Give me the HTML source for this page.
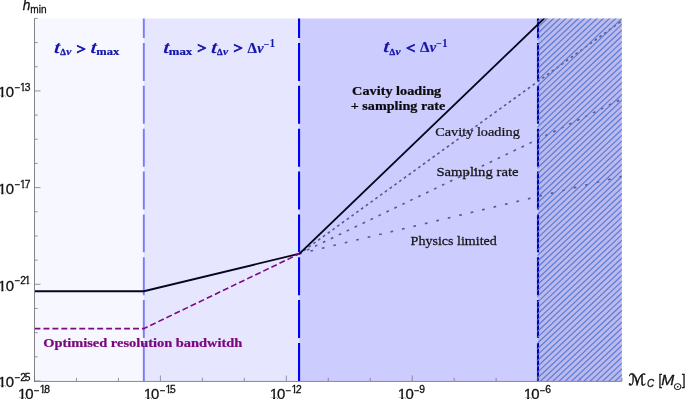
<!DOCTYPE html>
<html lang="en"><head><meta charset="utf-8"><title>h_min vs chirp mass</title>
<style>
html,body{margin:0;padding:0;background:#fff;}
body{width:685px;height:399px;overflow:hidden;}
svg{display:block;}
</style></head><body>
<svg width="685" height="399" viewBox="0 0 685 399">
<defs>
<clipPath id="plot"><rect x="34.5" y="18.5" width="587.3" height="362.5"/></clipPath>
</defs>
<rect x="34.5" y="18.5" width="109.35" height="362.5" fill="#f7f7ff"/>
<rect x="143.85" y="18.5" width="155.25000000000003" height="362.5" fill="#e6e6ff"/>
<rect x="299.1" y="18.5" width="238.89999999999998" height="362.5" fill="#ccccff"/>
<rect x="538.0" y="18.5" width="83.79999999999995" height="362.5" fill="#bcb9ec"/>
<g clip-path="url(#plot)">
<path d="M299.5 253.7 L621.80 20.87" stroke="#58588c" stroke-width="1.6" fill="none" stroke-dasharray="2.7 3.18" stroke-dashoffset="0.53"/>
<path d="M299.5 253.7 L621.80 99.00" stroke="#58588c" stroke-width="1.6" fill="none" stroke-dasharray="2.7 6.11" stroke-dashoffset="0.49"/>
<path d="M299.5 253.7 L621.80 176.35" stroke="#58588c" stroke-width="1.6" fill="none" stroke-dasharray="2.7 9.07" stroke-dashoffset="0.52"/>
</g>
<path d="M538.0 18.50V38.10M538.0 43.00V80.95M538.0 85.85V123.80M538.0 128.70V166.65M538.0 171.55V209.50M538.0 214.40V252.35M538.0 257.25V295.20M538.0 300.10V338.05M538.0 342.95V380.90" stroke="#0000b0" stroke-width="2.1" fill="none"/>
<clipPath id="hc"><rect x="537.4" y="18.5" width="84.39999999999995" height="362.5"/></clipPath>
<path clip-path="url(#hc)" d="M536.0 17.48L623.8 -65.05M536.0 23.32L623.8 -59.21M536.0 29.16L623.8 -53.37M536.0 35.00L623.8 -47.53M536.0 40.84L623.8 -41.69M536.0 46.68L623.8 -35.85M536.0 52.52L623.8 -30.01M536.0 58.36L623.8 -24.17M536.0 64.20L623.8 -18.33M536.0 70.04L623.8 -12.49M536.0 75.88L623.8 -6.65M536.0 81.72L623.8 -0.81M536.0 87.56L623.8 5.03M536.0 93.40L623.8 10.87M536.0 99.24L623.8 16.71M536.0 105.08L623.8 22.55M536.0 110.92L623.8 28.39M536.0 116.76L623.8 34.23M536.0 122.60L623.8 40.07M536.0 128.44L623.8 45.91M536.0 134.28L623.8 51.75M536.0 140.12L623.8 57.59M536.0 145.96L623.8 63.43M536.0 151.80L623.8 69.27M536.0 157.64L623.8 75.11M536.0 163.48L623.8 80.95M536.0 169.32L623.8 86.79M536.0 175.16L623.8 92.63M536.0 181.00L623.8 98.47M536.0 186.84L623.8 104.31M536.0 192.68L623.8 110.15M536.0 198.52L623.8 115.99M536.0 204.36L623.8 121.83M536.0 210.20L623.8 127.67M536.0 216.04L623.8 133.51M536.0 221.88L623.8 139.35M536.0 227.72L623.8 145.19M536.0 233.56L623.8 151.03M536.0 239.40L623.8 156.87M536.0 245.24L623.8 162.71M536.0 251.08L623.8 168.55M536.0 256.92L623.8 174.39M536.0 262.76L623.8 180.23M536.0 268.60L623.8 186.07M536.0 274.44L623.8 191.91M536.0 280.28L623.8 197.75M536.0 286.12L623.8 203.59M536.0 291.96L623.8 209.43M536.0 297.80L623.8 215.27M536.0 303.64L623.8 221.11M536.0 309.48L623.8 226.95M536.0 315.32L623.8 232.79M536.0 321.16L623.8 238.63M536.0 327.00L623.8 244.47M536.0 332.84L623.8 250.31M536.0 338.68L623.8 256.15M536.0 344.52L623.8 261.99M536.0 350.36L623.8 267.83M536.0 356.20L623.8 273.67M536.0 362.04L623.8 279.51M536.0 367.88L623.8 285.35M536.0 373.72L623.8 291.19M536.0 379.56L623.8 297.03M536.0 385.40L623.8 302.87M536.0 391.24L623.8 308.71M536.0 397.08L623.8 314.55M536.0 402.92L623.8 320.39M536.0 408.76L623.8 326.23M536.0 414.60L623.8 332.07M536.0 420.44L623.8 337.91M536.0 426.28L623.8 343.75M536.0 432.12L623.8 349.59M536.0 437.96L623.8 355.43M536.0 443.80L623.8 361.27M536.0 449.64L623.8 367.11M536.0 455.48L623.8 372.95M536.0 461.32L623.8 378.79" stroke="#5b7cd6" stroke-width="1.2" fill="none"/>
<path d="M143.79999999999998 18.50V38.10M143.79999999999998 43.00V80.95M143.79999999999998 85.85V123.80M143.79999999999998 128.70V166.65M143.79999999999998 171.55V209.50M143.79999999999998 214.40V252.35M143.79999999999998 257.25V295.20M143.79999999999998 300.10V338.05M143.79999999999998 342.95V380.90" stroke="#7a7aff" stroke-width="1.9" fill="none"/>
<path d="M299.05 18.50V38.10M299.05 43.00V80.95M299.05 85.85V123.80M299.05 128.70V166.65M299.05 171.55V209.50M299.05 214.40V252.35M299.05 257.25V295.20M299.05 300.10V338.05M299.05 342.95V380.90" stroke="#0000ff" stroke-width="2.1" fill="none"/>
<g clip-path="url(#plot)">
<path d="M34.5 291.25 H143.8 L299.5 253.7 L547.21 15.5" stroke="#06061e" stroke-width="1.85" fill="none" stroke-linejoin="miter"/>
<path d="M34.5 328.6 H143.8 L299.5 253.7" stroke="#7d0a82" stroke-width="1.6" fill="none" stroke-dasharray="5.93 3.03"/>
</g>
<path d="M34.5 18.3V381.9" stroke="#84848a" stroke-width="1" fill="none"/>
<path d="M34.0 381.45H621.8" stroke="#7c7c80" stroke-width="0.9" fill="none"/>
<path d="M34.5 381.00h6.0M34.5 356.82h3.2M34.5 332.65h3.2M34.5 308.48h3.2M34.5 284.30h6.0M34.5 260.12h3.2M34.5 235.95h3.2M34.5 211.78h3.2M34.5 187.60h6.0M34.5 163.42h3.2M34.5 139.25h3.2M34.5 115.07h3.2M34.5 90.90h6.0M34.5 66.72h3.2M34.5 42.55h3.2M34.5 18.38h3.2M34.50 381.0v-5.5M76.47 381.0v-3.2M118.43 381.0v-3.2M160.40 381.0v-5.5M202.37 381.0v-3.2M244.33 381.0v-3.2M286.30 381.0v-5.5M328.27 381.0v-3.2M370.23 381.0v-3.2M412.20 381.0v-5.5M454.17 381.0v-3.2M496.13 381.0v-3.2M538.10 381.0v-5.5M580.07 381.0v-3.2M622.03 381.0v-3.2" stroke="#74747c" stroke-width="0.75" fill="none"/>
<clipPath id="df1"><rect x="-7.02" y="79.32" width="27.70" height="16.52"/><rect x="1.38" y="95.34" width="2.02" height="3.36"/><rect x="5.71" y="95.34" width="7.72" height="3.36"/></clipPath><text clip-path="url(#df1)" x="-2.02" y="97.20" font-family='"Liberation Sans","DejaVu Sans",sans-serif' font-size="14.9" letter-spacing="-0.563" fill="#111111" stroke="#111111" stroke-width="0.3">10</text>
<text transform="matrix(0.9984 0 0 1 14.53 91.05)" font-family='"Liberation Sans","DejaVu Sans",sans-serif' font-size="9.5"  fill="#111111" stroke="#111111" stroke-width="0.3">−</text>
<clipPath id="df2"><rect x="15.03" y="78.44" width="23.50" height="11.34"/><rect x="22.27" y="89.28" width="1.61" height="3.02"/><rect x="24.73" y="89.28" width="4.71" height="3.02"/></clipPath><text clip-path="url(#df2)" x="20.03" y="90.80" font-family='"Liberation Sans","DejaVu Sans",sans-serif' font-size="10.3" letter-spacing="-1.023" fill="#111111" stroke="#111111" stroke-width="0.3">13</text>
<clipPath id="df3"><rect x="-7.02" y="176.02" width="27.70" height="16.52"/><rect x="1.38" y="192.04" width="2.02" height="3.36"/><rect x="5.71" y="192.04" width="7.72" height="3.36"/></clipPath><text clip-path="url(#df3)" x="-2.02" y="193.90" font-family='"Liberation Sans","DejaVu Sans",sans-serif' font-size="14.9" letter-spacing="-0.563" fill="#111111" stroke="#111111" stroke-width="0.3">10</text>
<text transform="matrix(0.9984 0 0 1 14.53 187.75)" font-family='"Liberation Sans","DejaVu Sans",sans-serif' font-size="9.5"  fill="#111111" stroke="#111111" stroke-width="0.3">−</text>
<clipPath id="df4"><rect x="15.03" y="175.14" width="23.35" height="11.34"/><rect x="22.27" y="185.98" width="1.61" height="3.02"/><rect x="24.81" y="185.98" width="4.78" height="3.02"/></clipPath><text clip-path="url(#df4)" x="20.03" y="187.50" font-family='"Liberation Sans","DejaVu Sans",sans-serif' font-size="10.3" letter-spacing="-0.946" fill="#111111" stroke="#111111" stroke-width="0.3">17</text>
<clipPath id="df5"><rect x="-7.02" y="272.72" width="27.70" height="16.52"/><rect x="1.38" y="288.74" width="2.02" height="3.36"/><rect x="5.71" y="288.74" width="7.72" height="3.36"/></clipPath><text clip-path="url(#df5)" x="-2.02" y="290.60" font-family='"Liberation Sans","DejaVu Sans",sans-serif' font-size="14.9" letter-spacing="-0.563" fill="#111111" stroke="#111111" stroke-width="0.3">10</text>
<text transform="matrix(0.9984 0 0 1 14.53 284.45)" font-family='"Liberation Sans","DejaVu Sans",sans-serif' font-size="9.5"  fill="#111111" stroke="#111111" stroke-width="0.3">−</text>
<clipPath id="df6"><rect x="15.29" y="271.84" width="23.91" height="11.34"/><rect x="20.29" y="282.68" width="4.50" height="3.02"/><rect x="27.02" y="282.68" width="1.61" height="3.02"/></clipPath><text clip-path="url(#df6)" x="20.29" y="284.20" font-family='"Liberation Sans","DejaVu Sans",sans-serif' font-size="10.3" letter-spacing="-1.229" fill="#111111" stroke="#111111" stroke-width="0.3">21</text>
<clipPath id="df7"><rect x="-7.02" y="369.42" width="27.70" height="16.52"/><rect x="1.38" y="385.44" width="2.02" height="3.36"/><rect x="5.71" y="385.44" width="7.72" height="3.36"/></clipPath><text clip-path="url(#df7)" x="-2.02" y="387.30" font-family='"Liberation Sans","DejaVu Sans",sans-serif' font-size="14.9" letter-spacing="-0.563" fill="#111111" stroke="#111111" stroke-width="0.3">10</text>
<text transform="matrix(0.9984 0 0 1 14.53 381.15)" font-family='"Liberation Sans","DejaVu Sans",sans-serif' font-size="9.5"  fill="#111111" stroke="#111111" stroke-width="0.3">−</text>
<clipPath id="df8"><rect x="15.29" y="368.54" width="24.07" height="11.34"/><rect x="20.29" y="379.38" width="4.42" height="3.02"/><rect x="24.71" y="379.38" width="4.42" height="3.02"/></clipPath><text clip-path="url(#df8)" x="20.29" y="380.90" font-family='"Liberation Sans","DejaVu Sans",sans-serif' font-size="10.3" letter-spacing="-1.306" fill="#111111" stroke="#111111" stroke-width="0.3">25</text>
<clipPath id="df9"><rect x="12.88" y="381.42" width="28.50" height="16.52"/><rect x="21.28" y="397.44" width="2.02" height="3.36"/><rect x="25.21" y="397.44" width="7.32" height="3.36"/></clipPath><text clip-path="url(#df9)" x="17.88" y="399.30" font-family='"Liberation Sans","DejaVu Sans",sans-serif' font-size="14.9" letter-spacing="-0.963" fill="#111111" stroke="#111111" stroke-width="0.3">10</text>
<text transform="matrix(1.0092 0 0 1 33.77 394.05)" font-family='"Liberation Sans","DejaVu Sans",sans-serif' font-size="9.5"  fill="#111111" stroke="#111111" stroke-width="0.3">−</text>
<clipPath id="df10"><rect x="34.68" y="380.54" width="23.80" height="11.34"/><rect x="41.92" y="391.38" width="1.61" height="3.02"/><rect x="44.23" y="391.38" width="4.56" height="3.02"/></clipPath><text clip-path="url(#df10)" x="39.68" y="392.90" font-family='"Liberation Sans","DejaVu Sans",sans-serif' font-size="10.3" letter-spacing="-1.173" fill="#111111" stroke="#111111" stroke-width="0.3">18</text>
<clipPath id="df11"><rect x="138.78" y="381.42" width="28.50" height="16.52"/><rect x="147.18" y="397.44" width="2.02" height="3.36"/><rect x="151.11" y="397.44" width="7.32" height="3.36"/></clipPath><text clip-path="url(#df11)" x="143.78" y="399.30" font-family='"Liberation Sans","DejaVu Sans",sans-serif' font-size="14.9" letter-spacing="-0.963" fill="#111111" stroke="#111111" stroke-width="0.3">10</text>
<text transform="matrix(1.0092 0 0 1 159.67 394.05)" font-family='"Liberation Sans","DejaVu Sans",sans-serif' font-size="9.5"  fill="#111111" stroke="#111111" stroke-width="0.3">−</text>
<clipPath id="df12"><rect x="160.58" y="380.54" width="23.85" height="11.34"/><rect x="167.82" y="391.38" width="1.61" height="3.02"/><rect x="170.11" y="391.38" width="4.53" height="3.02"/></clipPath><text clip-path="url(#df12)" x="165.58" y="392.90" font-family='"Liberation Sans","DejaVu Sans",sans-serif' font-size="10.3" letter-spacing="-1.198" fill="#111111" stroke="#111111" stroke-width="0.3">15</text>
<clipPath id="df13"><rect x="264.68" y="381.42" width="28.50" height="16.52"/><rect x="273.08" y="397.44" width="2.02" height="3.36"/><rect x="277.01" y="397.44" width="7.32" height="3.36"/></clipPath><text clip-path="url(#df13)" x="269.68" y="399.30" font-family='"Liberation Sans","DejaVu Sans",sans-serif' font-size="14.9" letter-spacing="-0.963" fill="#111111" stroke="#111111" stroke-width="0.3">10</text>
<text transform="matrix(1.0092 0 0 1 285.57 394.05)" font-family='"Liberation Sans","DejaVu Sans",sans-serif' font-size="9.5"  fill="#111111" stroke="#111111" stroke-width="0.3">−</text>
<clipPath id="df14"><rect x="286.48" y="380.54" width="23.65" height="11.34"/><rect x="293.72" y="391.38" width="1.61" height="3.02"/><rect x="296.11" y="391.38" width="4.63" height="3.02"/></clipPath><text clip-path="url(#df14)" x="291.48" y="392.90" font-family='"Liberation Sans","DejaVu Sans",sans-serif' font-size="10.3" letter-spacing="-1.095" fill="#111111" stroke="#111111" stroke-width="0.3">12</text>
<clipPath id="df15"><rect x="392.78" y="381.42" width="27.90" height="16.52"/><rect x="401.18" y="397.44" width="2.02" height="3.36"/><rect x="405.41" y="397.44" width="7.62" height="3.36"/></clipPath><text clip-path="url(#df15)" x="397.78" y="399.30" font-family='"Liberation Sans","DejaVu Sans",sans-serif' font-size="14.9" letter-spacing="-0.663" fill="#111111" stroke="#111111" stroke-width="0.3">10</text>
<text transform="matrix(0.9550 0 0 1 413.95 394.05)" font-family='"Liberation Sans","DejaVu Sans",sans-serif' font-size="9.5"  fill="#111111" stroke="#111111" stroke-width="0.3">−</text>
<clipPath id="df16"><rect x="414.31" y="380.54" width="15.73" height="11.34"/><rect x="419.31" y="391.38" width="5.73" height="3.02"/></clipPath><text clip-path="url(#df16)" x="419.31" y="392.90" font-family='"Liberation Sans","DejaVu Sans",sans-serif' font-size="10.3" letter-spacing="0.000" fill="#111111" stroke="#111111" stroke-width="0.3">9</text>
<clipPath id="df17"><rect x="518.68" y="381.42" width="27.90" height="16.52"/><rect x="527.08" y="397.44" width="2.02" height="3.36"/><rect x="531.31" y="397.44" width="7.62" height="3.36"/></clipPath><text clip-path="url(#df17)" x="523.68" y="399.30" font-family='"Liberation Sans","DejaVu Sans",sans-serif' font-size="14.9" letter-spacing="-0.663" fill="#111111" stroke="#111111" stroke-width="0.3">10</text>
<text transform="matrix(0.9550 0 0 1 539.85 394.05)" font-family='"Liberation Sans","DejaVu Sans",sans-serif' font-size="9.5"  fill="#111111" stroke="#111111" stroke-width="0.3">−</text>
<clipPath id="df18"><rect x="540.19" y="380.54" width="15.73" height="11.34"/><rect x="545.19" y="391.38" width="5.73" height="3.02"/></clipPath><text clip-path="url(#df18)" x="545.19" y="392.90" font-family='"Liberation Sans","DejaVu Sans",sans-serif' font-size="10.3" letter-spacing="0.000" fill="#111111" stroke="#111111" stroke-width="0.3">6</text>
<text transform="matrix(0.9024 0 0 1 22.76 10.40)" font-family='"Liberation Sans","DejaVu Sans",sans-serif' font-size="15.3" font-style="italic" fill="#111111" stroke="#111111" stroke-width="0.3">h</text>
<text transform="matrix(0.9004 0 0 1 30.29 12.60)" font-family='"Liberation Sans","DejaVu Sans",sans-serif' font-size="11.2"  fill="#111111" stroke="#111111" stroke-width="0.3">min</text>
<text transform="matrix(1.0731 0 0 1 628.55 385.30)" font-family='"DejaVu Sans",sans-serif' font-size="15.3"  fill="#111111" stroke="#111111" stroke-width="0.45">ℳ</text>
<text transform="matrix(0.9259 0 0 1 647.06 386.80)" font-family='"Liberation Sans","DejaVu Sans",sans-serif' font-size="10.6" font-style="italic" fill="#111111" stroke="#111111" stroke-width="0.3">C</text>
<text transform="matrix(0.9058 0 0 1 658.52 385.00)" font-family='"Liberation Sans","DejaVu Sans",sans-serif' font-size="13.8"  fill="#111111" stroke="#111111" stroke-width="0.3">[</text>
<text transform="matrix(1.0384 0 0 1 661.23 385.00)" font-family='"Liberation Sans","DejaVu Sans",sans-serif' font-size="15.0" font-style="italic" fill="#111111" stroke="#111111" stroke-width="0.3">M</text>
<text transform="matrix(1.0429 0 0 1 672.91 390.30)" font-family='"DejaVu Sans",sans-serif' font-size="10.5"  fill="#111111" stroke="#111111" stroke-width="0.2">⊙</text>
<text transform="matrix(0.9058 0 0 1 682.01 385.00)" font-family='"Liberation Sans","DejaVu Sans",sans-serif' font-size="13.8"  fill="#111111" stroke="#111111" stroke-width="0.3">]</text>
<text transform="matrix(1.1500 0 -0.11 1 53.79 52.70)" font-family='"Liberation Serif","DejaVu Serif",serif' font-size="17.8" font-weight="bold" font-style="italic" fill="#1616aa">t</text>
<text transform="matrix(1.0042 0 0 1 60.19 55.10)" font-family='"Liberation Serif","DejaVu Serif",serif' font-size="9.0" font-weight="bold" fill="#1616aa" stroke="#1616aa" stroke-width="0.3">Δ</text>
<text transform="matrix(1.1761 0 0 1 66.18 55.10)" font-family='"Liberation Serif","DejaVu Serif",serif' font-size="9.8" font-weight="bold" font-style="italic" fill="#1616aa" stroke="#1616aa" stroke-width="0.25">ν</text>
<text transform="matrix(1.1828 0 0 1 76.52 53.57)" font-family='"Liberation Serif","DejaVu Serif",serif' font-size="14.0" font-weight="bold" fill="#1616aa" stroke="#1616aa" stroke-width="0.7">&gt;</text>
<text transform="matrix(1.1500 0 -0.11 1 90.19 52.70)" font-family='"Liberation Serif","DejaVu Serif",serif' font-size="17.8" font-weight="bold" font-style="italic" fill="#1616aa">t</text>
<text transform="matrix(1.1062 0 0 1 96.36 55.10)" font-family='"Liberation Serif","DejaVu Serif",serif' font-size="11.3" font-weight="bold" fill="#1616aa" stroke="#1616aa" stroke-width="0.25">max</text>
<text transform="matrix(1.1500 0 -0.11 1 162.89 52.60)" font-family='"Liberation Serif","DejaVu Serif",serif' font-size="17.8" font-weight="bold" font-style="italic" fill="#1616aa">t</text>
<text transform="matrix(1.1308 0 0 1 168.75 55.00)" font-family='"Liberation Serif","DejaVu Serif",serif' font-size="11.3" font-weight="bold" fill="#1616aa" stroke="#1616aa" stroke-width="0.25">max</text>
<text transform="matrix(1.1674 0 0 1 197.23 53.47)" font-family='"Liberation Serif","DejaVu Serif",serif' font-size="14.0" font-weight="bold" fill="#1616aa" stroke="#1616aa" stroke-width="0.7">&gt;</text>
<text transform="matrix(1.1500 0 -0.11 1 210.69 52.60)" font-family='"Liberation Serif","DejaVu Serif",serif' font-size="17.8" font-weight="bold" font-style="italic" fill="#1616aa">t</text>
<text transform="matrix(1.0042 0 0 1 217.09 55.00)" font-family='"Liberation Serif","DejaVu Serif",serif' font-size="9.0" font-weight="bold" fill="#1616aa" stroke="#1616aa" stroke-width="0.3">Δ</text>
<text transform="matrix(1.1761 0 0 1 223.08 55.00)" font-family='"Liberation Serif","DejaVu Serif",serif' font-size="9.8" font-weight="bold" font-style="italic" fill="#1616aa" stroke="#1616aa" stroke-width="0.25">ν</text>
<text transform="matrix(1.1828 0 0 1 233.42 53.47)" font-family='"Liberation Serif","DejaVu Serif",serif' font-size="14.0" font-weight="bold" fill="#1616aa" stroke="#1616aa" stroke-width="0.7">&gt;</text>
<text transform="matrix(1.0178 0 0 1 247.61 52.50)" font-family='"Liberation Serif","DejaVu Serif",serif' font-size="14.8" font-weight="bold" fill="#1616aa" stroke="#1616aa" stroke-width="0.2">Δ</text>
<text transform="matrix(0.9620 0 0 1 257.26 52.50)" font-family='"Liberation Serif","DejaVu Serif",serif' font-size="14.8" font-weight="bold" font-style="italic" fill="#1616aa" stroke="#1616aa" stroke-width="0.2">ν</text>
<text transform="matrix(0.8976 0 0 1 263.56 47.65)" font-family='"Liberation Serif","DejaVu Serif",serif' font-size="11.5" font-weight="bold" fill="#1616aa">−</text>
<text transform="matrix(0.8658 0 0 1 269.49 46.95)" font-family='"Liberation Serif","DejaVu Serif",serif' font-size="13.2" font-weight="bold" fill="#1616aa">1</text>
<text transform="matrix(1.1500 0 -0.11 1 382.99 52.30)" font-family='"Liberation Serif","DejaVu Serif",serif' font-size="17.8" font-weight="bold" font-style="italic" fill="#1616aa">t</text>
<text transform="matrix(1.0042 0 0 1 389.39 54.70)" font-family='"Liberation Serif","DejaVu Serif",serif' font-size="9.0" font-weight="bold" fill="#1616aa" stroke="#1616aa" stroke-width="0.3">Δ</text>
<text transform="matrix(1.1761 0 0 1 395.38 54.70)" font-family='"Liberation Serif","DejaVu Serif",serif' font-size="9.8" font-weight="bold" font-style="italic" fill="#1616aa" stroke="#1616aa" stroke-width="0.25">ν</text>
<text transform="matrix(1.1674 0 0 1 406.03 53.17)" font-family='"Liberation Serif","DejaVu Serif",serif' font-size="14.0" font-weight="bold" fill="#1616aa" stroke="#1616aa" stroke-width="0.7">&lt;</text>
<text transform="matrix(1.0178 0 0 1 420.01 52.20)" font-family='"Liberation Serif","DejaVu Serif",serif' font-size="14.8" font-weight="bold" fill="#1616aa" stroke="#1616aa" stroke-width="0.2">Δ</text>
<text transform="matrix(0.9620 0 0 1 429.66 52.20)" font-family='"Liberation Serif","DejaVu Serif",serif' font-size="14.8" font-weight="bold" font-style="italic" fill="#1616aa" stroke="#1616aa" stroke-width="0.2">ν</text>
<text transform="matrix(0.8976 0 0 1 435.96 47.35)" font-family='"Liberation Serif","DejaVu Serif",serif' font-size="11.5" font-weight="bold" fill="#1616aa">−</text>
<text transform="matrix(0.8658 0 0 1 441.89 46.65)" font-family='"Liberation Serif","DejaVu Serif",serif' font-size="13.2" font-weight="bold" fill="#1616aa">1</text>
<text transform="matrix(1.0574 0 0 1 352.12 94.90)" font-family='"Liberation Serif","DejaVu Serif",serif' font-size="13.5" font-weight="bold" fill="#0c0c0c" stroke="#0c0c0c" stroke-width="0.25">Cavity loading</text>
<text transform="matrix(1.0490 0 0 1 350.76 109.70)" font-family='"Liberation Serif","DejaVu Serif",serif' font-size="13.5" font-weight="bold" fill="#0c0c0c" stroke="#0c0c0c" stroke-width="0.25">+ sampling rate</text>
<text transform="matrix(1.0770 0 0 1 435.13 135.70)" font-family='"Liberation Serif","DejaVu Serif",serif' font-size="13.3"  fill="#141414" stroke="#141414" stroke-width="0.25">Cavity loading</text>
<text transform="matrix(1.1072 0 0 1 436.41 175.60)" font-family='"Liberation Serif","DejaVu Serif",serif' font-size="13.3"  fill="#141414" stroke="#141414" stroke-width="0.25">Sampling rate</text>
<text transform="matrix(1.0576 0 0 1 410.61 244.60)" font-family='"Liberation Serif","DejaVu Serif",serif' font-size="13.3"  fill="#141414" stroke="#141414" stroke-width="0.25">Physics limited</text>
<text transform="matrix(1.0768 0 0 1 43.21 346.90)" font-family='"Liberation Serif","DejaVu Serif",serif' font-size="13.4" font-weight="bold" fill="#7a077e" stroke="#7a077e" stroke-width="0.25">Optimised resolution bandwitdh</text>
</svg></body></html>
